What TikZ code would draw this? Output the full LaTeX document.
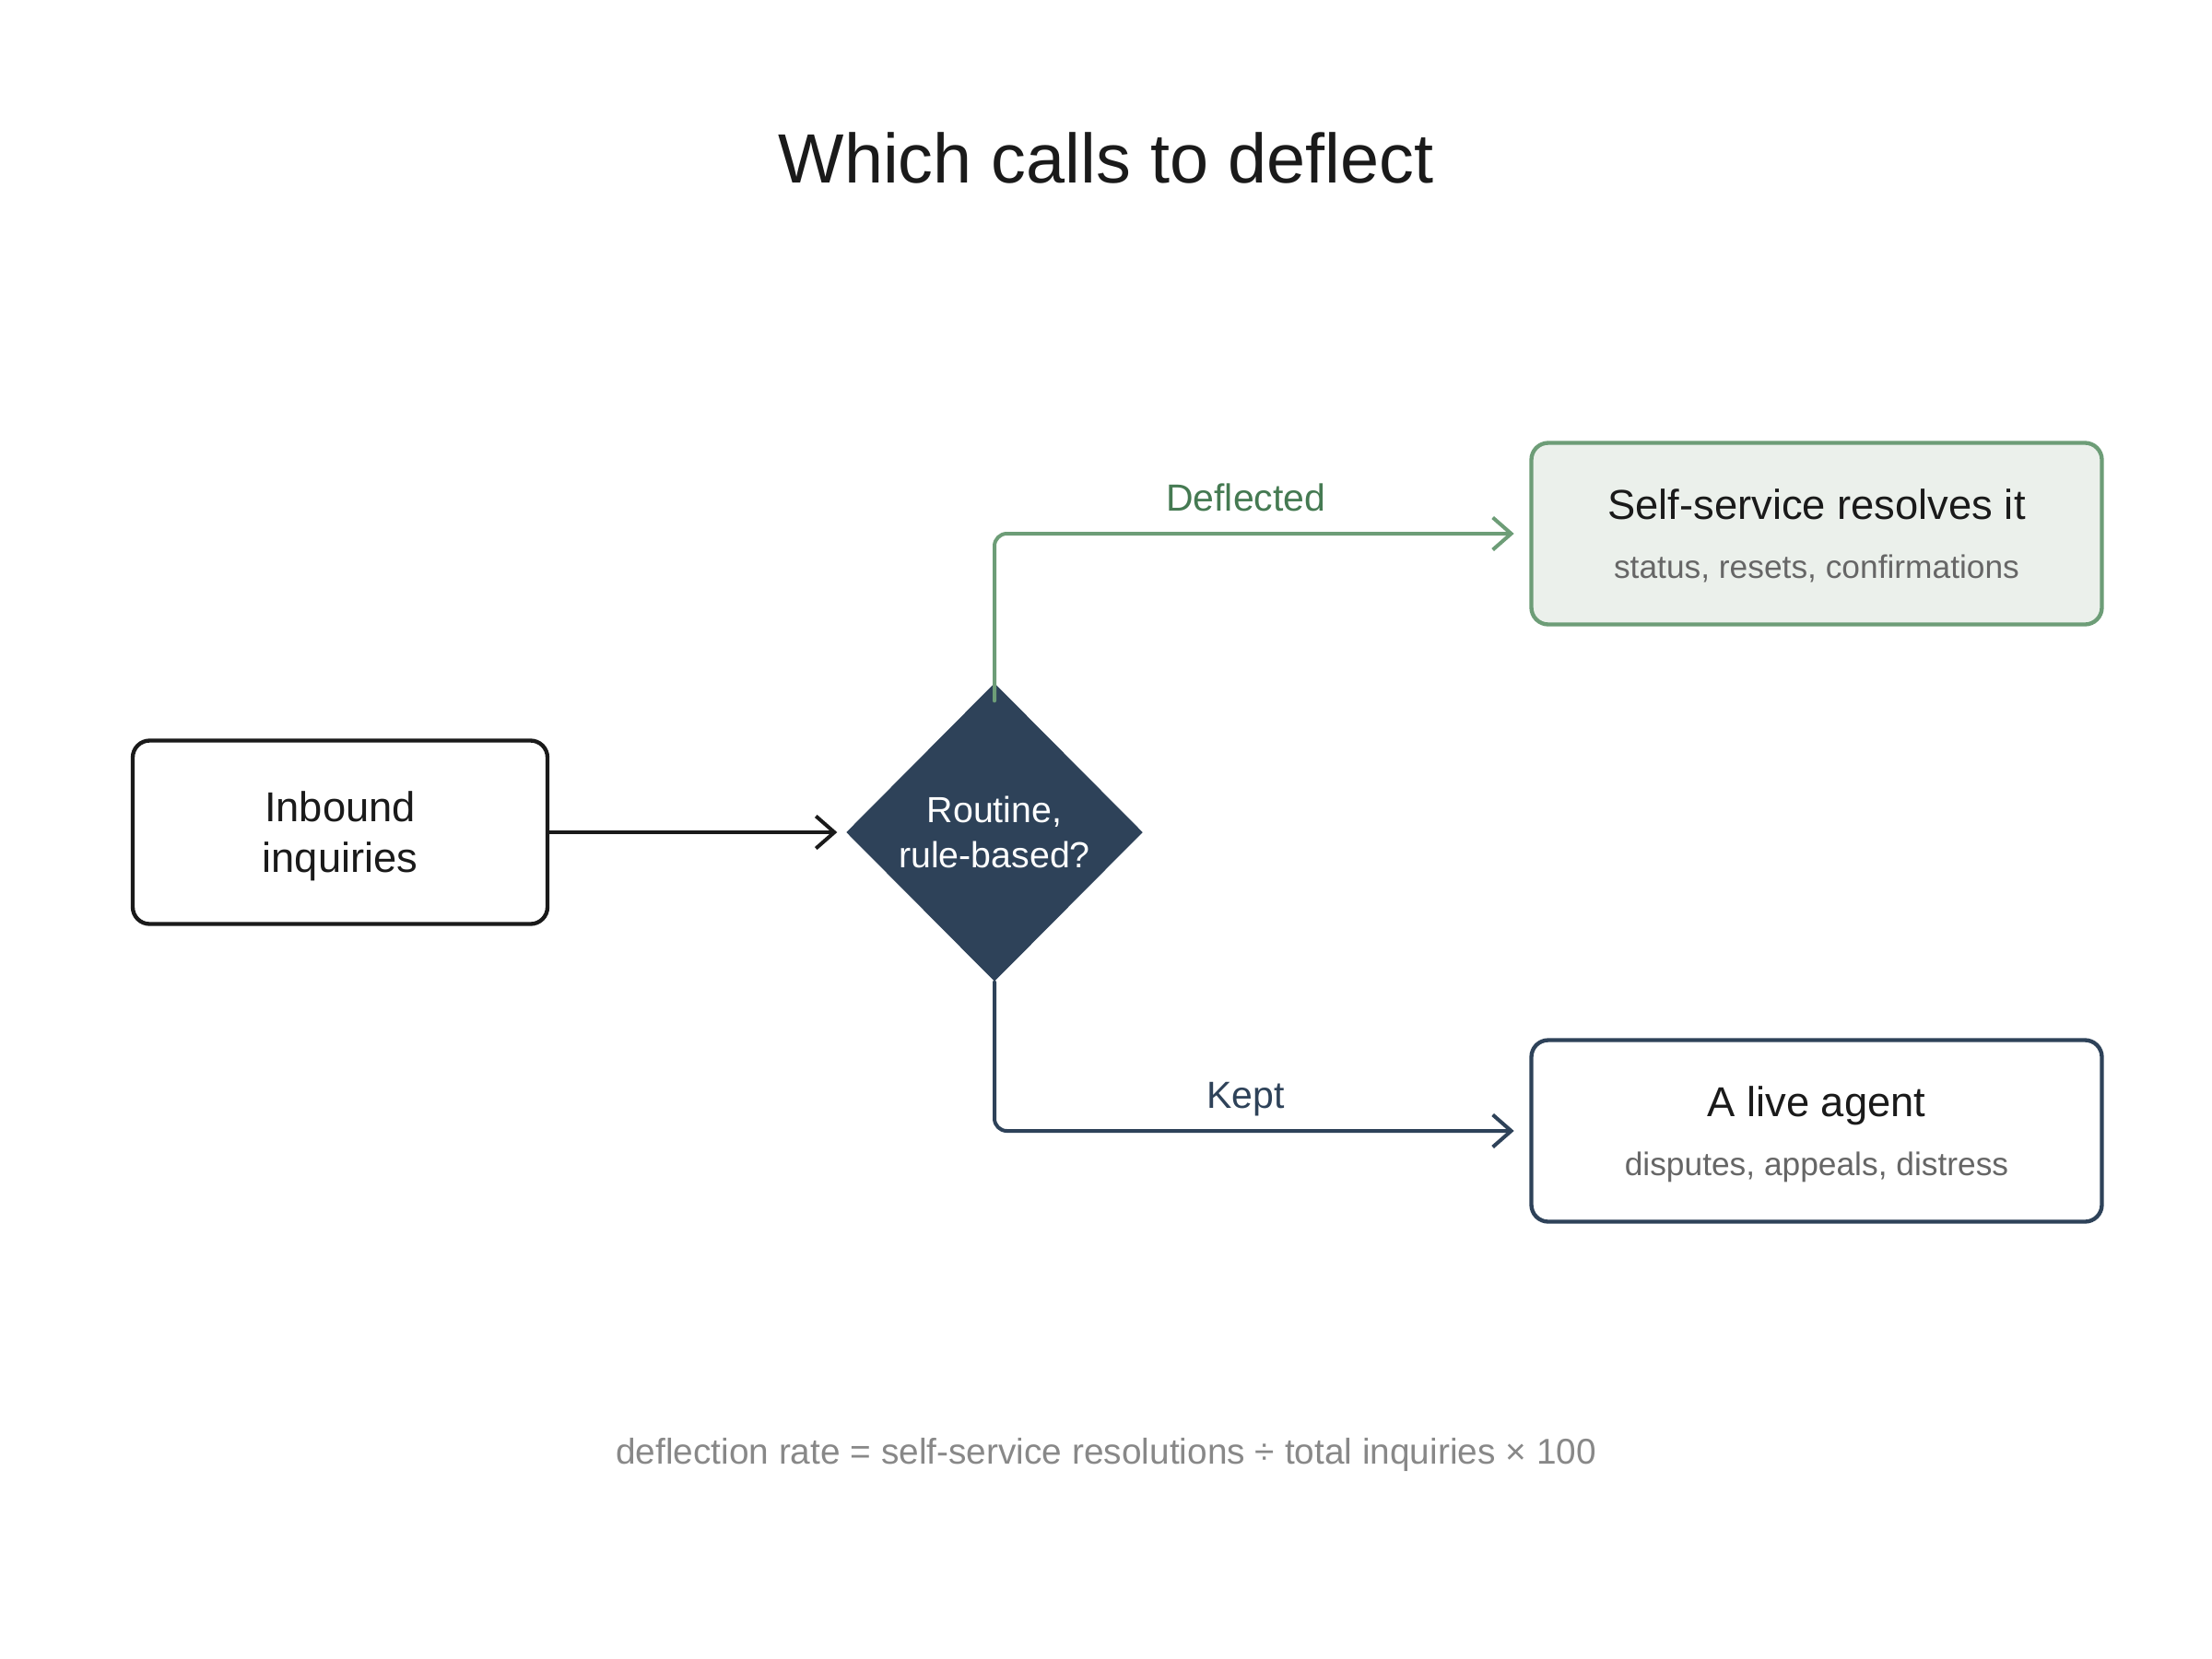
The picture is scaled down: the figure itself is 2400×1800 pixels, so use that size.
\documentclass[tikz,border=0pt]{standalone}
\usepackage{fontspec}
\setmainfont{Liberation Sans}
\usetikzlibrary{shapes.geometric,arrows.meta}
\definecolor{inkblack}{HTML}{1A1A1A}
\definecolor{navy}{HTML}{2E4259}
\definecolor{leaf}{HTML}{6D9D77}
\definecolor{leaftext}{HTML}{457A52}
\definecolor{leaffill}{HTML}{EBF0EB}
\definecolor{subgray}{HTML}{666666}
\definecolor{notegray}{HTML}{888888}
\begin{document}
\begin{tikzpicture}[x=0.3pt,y=-0.3pt,>={Straight Barb[length=6pt,width=10.5pt]},line join=round,
  startbox/.style={draw=inkblack,line width=1.3pt,rounded corners=5.5pt,minimum width=135pt,minimum height=59.7pt,align=center,text depth=0pt,text=inkblack,font=\fontsize{13.6}{16.5}\selectfont},
  endbox/.style={line width=1.3pt,rounded corners=5.5pt,minimum width=185.7pt,minimum height=59.1pt,align=center,text depth=0pt,text=inkblack,font=\fontsize{13.6}{19}\selectfont},
  flow/.style={line width=1.2pt,line cap=round},
  branchlabel/.style={pos=0.735,anchor=base,yshift=7.5pt,font=\fontsize{12.3}{14}\selectfont},
]
%%
\useasboundingbox (0,0) rectangle (2400,1800);
\node (node_title) at (1200,171) [text=inkblack,font=\fontsize{22.7}{27}\selectfont] {Which calls to deflect};
  \node (node_inbound) at (369,903) [startbox] {Inbound\\inquiries};
  \node (node_decide) at (1079,903) [diamond,fill=navy,inner sep=0pt,minimum width=96.6pt,minimum height=97.2pt,align=center,text depth=0pt,text=white,font=\fontsize{11.8}{14.7}\selectfont] {Routine,\\rule-based?};
  \node (node_self) at (1971,579) [endbox,draw=leaf,fill=leaffill] {Self-service resolves it\\{\fontsize{10.6}{19}\selectfont\color{subgray}status, resets, confirmations}};
  \node (node_agent) at (1971,1227) [endbox,draw=navy,fill=white] {A live agent\\{\fontsize{10.6}{19}\selectfont\color{subgray}disputes, appeals, distress}};
  \node (node_note) at (1200,1578) [text=notegray,font=\fontsize{11.65}{14}\selectfont] {deflection rate = self-service resolutions ÷ total inquiries × 100};
  \draw [flow,inkblack,->,shorten >=2.7pt] (node_inbound) -- (node_decide);
  \draw [flow,leaf,->,rounded corners=4pt,shorten >=5pt] ([yshift=-6pt]node_decide.north) |- (node_self) node [branchlabel,text=leaftext] {Deflected};
  \draw [flow,navy,->,rounded corners=4pt,shorten >=5pt] (node_decide.south) |- (node_agent) node [branchlabel,text=navy] {Kept};
%
\end{tikzpicture}
\end{document}
